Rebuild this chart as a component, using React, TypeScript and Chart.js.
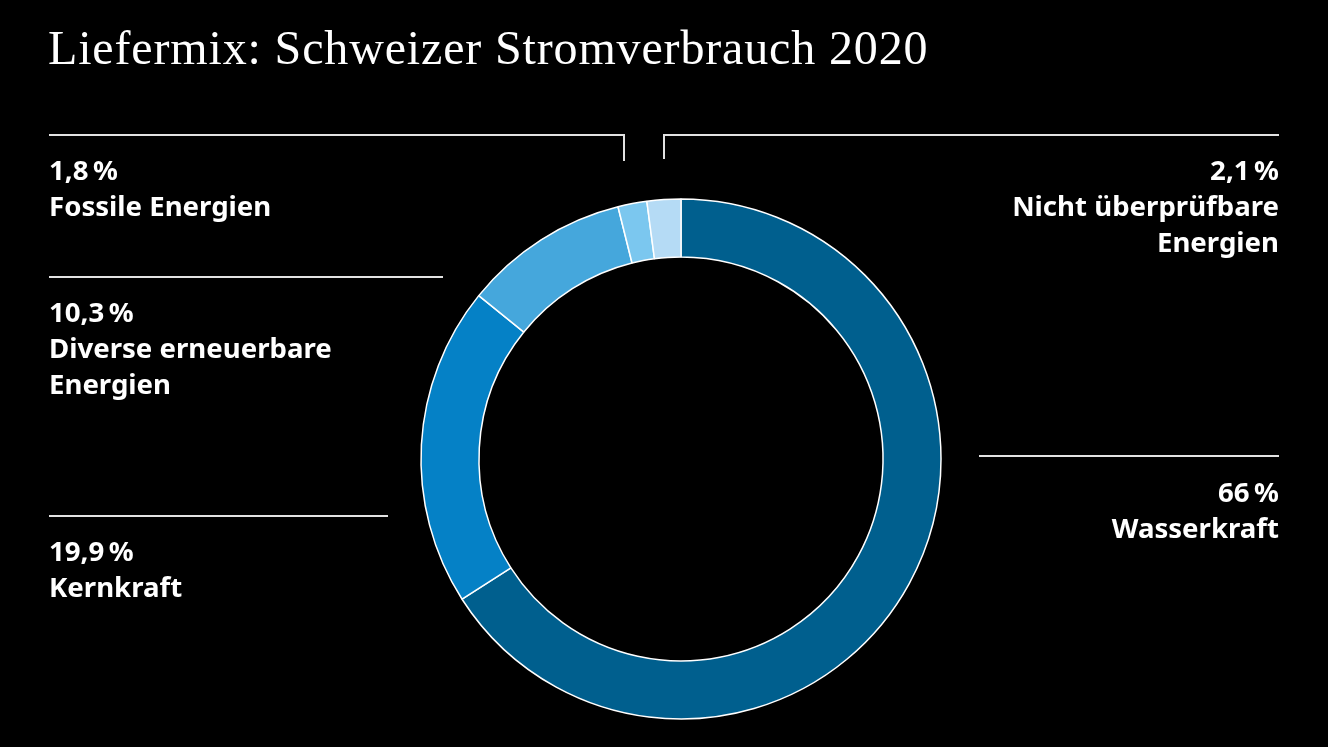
import React, { useEffect, useRef } from "react";
import { Chart, registerables } from "chart.js";

Chart.register(...registerables);

const categories = [
  "Wasserkraft",
  "Kernkraft",
  "Diverse erneuerbare Energien",
  "Fossile Energien",
  "Nicht überprüfbare Energien",
];
const shares = [66, 19.9, 10.3, 1.8, 2.1];
const sliceColors = ["#005f8e", "#0581c6", "#45a7dc", "#7bc7ef", "#b5dbf5"];
const titleText = "Liefermix: Schweizer Stromverbrauch 2020";

const fmt = (v: number) => String(v).replace(".", ",") + "\u202F%";

const W = 1328;
const H = 747;
const LABEL_FONT = "'Noto Sans', sans-serif";

type Block = {
  idx: number;
  lines: string[];
  x: number;
  align: "left" | "right";
  baseline: number;
};

const blocks: Block[] = [
  { idx: 3, lines: ["Fossile Energien"], x: 49, align: "left", baseline: 180 },
  { idx: 4, lines: ["Nicht überprüfbare", "Energien"], x: 1279, align: "right", baseline: 180 },
  { idx: 2, lines: ["Diverse erneuerbare", "Energien"], x: 49, align: "left", baseline: 322 },
  { idx: 1, lines: ["Kernkraft"], x: 49, align: "left", baseline: 561 },
  { idx: 0, lines: ["Wasserkraft"], x: 1279, align: "right", baseline: 502 },
];

const FS = 27.6;
const LH = 36;
// Noto Sans ascent 1.069, descent 0.293
const baselineOffset = (LH - 1.362 * FS) / 2 + 1.069 * FS;

const TFS = 48;
const TLH = 60;
// Liberation Serif ascent 0.891, descent 0.216
const titleTop = 64 - ((TLH - 1.107 * TFS) / 2 + 0.891 * TFS);

const lineColor = "#e2e2e2";

function HLine({ x1, x2, y }: { x1: number; x2: number; y: number }) {
  return (
    <div
      style={{
        position: "absolute",
        left: x1,
        top: y - 1,
        width: x2 - x1,
        height: 2,
        background: lineColor,
      }}
    />
  );
}
function VLine({ x, y1, y2 }: { x: number; y1: number; y2: number }) {
  return (
    <div
      style={{
        position: "absolute",
        left: x - 1,
        top: y1 - 1,
        width: 2,
        height: y2 - y1 + 1,
        background: lineColor,
      }}
    />
  );
}

export default function App() {
  const ref = useRef<HTMLCanvasElement | null>(null);

  useEffect(() => {
    if (!ref.current) return;
    const chart = new Chart(ref.current, {
      type: "doughnut",
      data: {
        labels: categories,
        datasets: [
          {
            data: shares,
            backgroundColor: sliceColors,
            borderColor: "#ffffff",
            borderWidth: 1.5,
            hoverOffset: 0,
          },
        ],
      },
      options: {
        responsive: false,
        animation: false,
        radius: 260,
        cutout: "77.7%",
        rotation: 0,
        layout: { padding: { left: 34, top: 171, right: 0, bottom: 0 } },
        plugins: {
          legend: { display: false },
          tooltip: { enabled: false },
          title: { display: false },
        },
        events: [],
      } as any,
    });
    return () => chart.destroy();
  }, []);

  return (
    <div
      style={{
        position: "absolute",
        left: 0,
        top: 0,
        width: W,
        height: H,
        background: "#000",
        overflow: "hidden",
      }}
    >
      <canvas
        ref={ref}
        width={W}
        height={H}
        style={{ position: "absolute", left: 0, top: 0, width: W, height: H }}
      />
      <div
        style={{
          position: "absolute",
          left: 48,
          top: titleTop,
          fontFamily: "'Liberation Serif', serif",
          fontSize: TFS,
          lineHeight: TLH + "px",
          letterSpacing: "0.85px",
          color: "#fff",
          whiteSpace: "nowrap",
        }}
      >
        {titleText}
      </div>

      <HLine x1={49} x2={624} y={135} />
      <VLine x={624} y1={135} y2={161} />
      <HLine x1={664} x2={1279} y={135} />
      <VLine x={664} y1={135} y2={159} />
      <HLine x1={49} x2={443} y={277} />
      <HLine x1={49} x2={388} y={516} />
      <HLine x1={979} x2={1279} y={456} />

      {blocks.map((b) => (
        <div
          key={b.idx}
          style={{
            position: "absolute",
            top: b.baseline - baselineOffset,
            ...(b.align === "left" ? { left: b.x } : { right: W - b.x }),
            textAlign: b.align,
            fontFamily: LABEL_FONT,
            fontWeight: 700,
            fontSize: FS,
            lineHeight: LH + "px",
            color: "#fff",
            whiteSpace: "nowrap",
          }}
        >
          <div>{fmt(shares[b.idx])}</div>
          {b.lines.map((l, i) => (
            <div key={i}>{l}</div>
          ))}
        </div>
      ))}
    </div>
  );
}
